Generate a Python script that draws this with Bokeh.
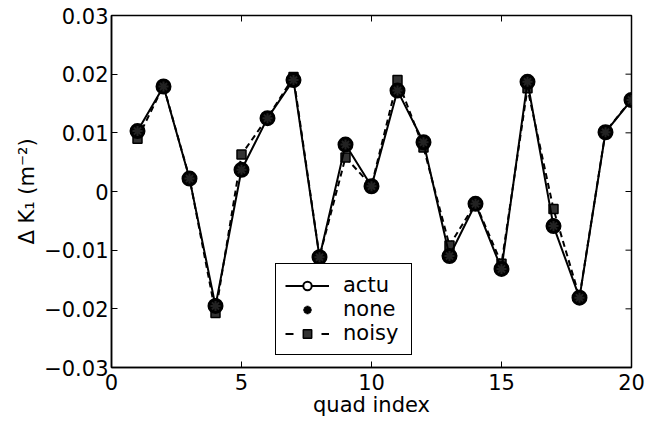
from bokeh.plotting import figure
from bokeh.models import Legend, LegendItem, FixedTicker
from bokeh.embed import file_html
from bokeh.resources import INLINE

quad = list(range(1, 21))
actu = [0.0103, 0.0179, 0.0022, -0.0195, 0.0037, 0.0125, 0.0190, -0.0112, 0.0080, 0.0009,
        0.0172, 0.0084, -0.0110, -0.0021, -0.0132, 0.0187, -0.0059, -0.0181, 0.0101, 0.0156]
none = [0.0103, 0.0179, 0.0022, -0.0195, 0.0037, 0.0125, 0.0190, -0.0112, 0.0080, 0.0009,
        0.0172, 0.0084, -0.0110, -0.0021, -0.0132, 0.0187, -0.0059, -0.0181, 0.0101, 0.0156]
noisy = [0.0090, 0.0180, 0.0023, -0.0207, 0.0063, 0.0126, 0.0195, -0.0111, 0.0058, 0.0010,
         0.0190, 0.0075, -0.0092, -0.0020, -0.0123, 0.0176, -0.0030, -0.0180, 0.0102, 0.0157]
x_ticks = [0, 5, 10, 15, 20]
y_ticks = [-0.03, -0.02, -0.01, 0, 0.01, 0.02, 0.03]
y_labels = {-0.03: "\u22120.03", -0.02: "\u22120.02", -0.01: "\u22120.01", 0: "0",
            0.01: "0.01", 0.02: "0.02", 0.03: "0.03"}

FONT = "DejaVu Sans"
FS = "21px"
X0, X1 = 0, 20
Y0, Y1 = -0.03, 0.03
FW, FH = 520, 352
TICK = 6

p = figure(width=646, height=423, frame_width=FW, frame_height=FH,
           x_range=(X0, X1), y_range=(Y0, Y1),
           output_backend="svg", toolbar_location=None,
           min_border_left=111, min_border_right=15, min_border_top=15, min_border_bottom=56)
p.grid.visible = False
p.outline_line_color = "black"
p.outline_line_width = 1.5
p.outline_line_alpha = 1
p.background_fill_color = "white"
p.border_fill_color = "white"

for ax in (p.xaxis[0], p.yaxis[0]):
    ax.major_tick_in = TICK
    ax.major_tick_out = 0
    ax.minor_tick_in = 0
    ax.minor_tick_out = 0
    ax.axis_line_width = 1.5
    ax.axis_line_color = "black"
    ax.major_tick_line_width = 1
    ax.major_tick_line_color = "black"
    ax.major_label_text_font = FONT
    ax.major_label_text_font_size = FS
    ax.major_label_text_color = "black"
    ax.axis_label_text_font = FONT
    ax.axis_label_text_font_size = FS
    ax.axis_label_text_font_style = "normal"
    ax.axis_label_text_color = "black"

p.xaxis.ticker = FixedTicker(ticks=x_ticks)
p.yaxis.ticker = FixedTicker(ticks=y_ticks)
p.yaxis.major_label_overrides = y_labels
p.xaxis.axis_label = "quad index"
p.yaxis.axis_label = "\u0394 K\u2081 (m\u207b\u00b2)"
p.xaxis.axis_label_standoff = 0
p.yaxis.axis_label_standoff = 2
p.xaxis.major_label_standoff = 6
p.yaxis.major_label_standoff = 3

# tick marks on the top and right edges of the box
dy = (Y1 - Y0) * TICK / FH
dx = (X1 - X0) * TICK / FW
p.segment(x0=x_ticks, y0=[Y1] * len(x_ticks), x1=x_ticks, y1=[Y1 - dy] * len(x_ticks),
          line_color="black", line_width=1)
p.segment(x0=[X1] * len(y_ticks), y0=y_ticks, x1=[X1 - dx] * len(y_ticks), y1=y_ticks,
          line_color="black", line_width=1)

# noisy dashed line with squares
p.line(quad, noisy, line_color="black", line_width=2, line_dash="6 4")
p.scatter(quad, noisy, marker="square", size=9, line_color="black", line_width=1.5,
          fill_color="#333333")
# actu solid line with circles
p.line(quad, actu, line_color="black", line_width=2)
p.scatter(quad, actu, marker="circle", size=14, line_color="black", line_width=2,
          fill_color="black")
# none asterisks
p.scatter(quad, none, marker="asterisk", size=10, line_color="#222222", line_width=2)

# legend proxies (hidden renderers, shown only in the legend)
la_line = p.line(quad, actu, line_color="black", line_width=2, visible=False)
la_mark = p.scatter(quad, actu, marker="circle", size=10, line_color="black", line_width=2,
                    fill_color="white", visible=False)
ln_mark = p.scatter(quad, none, marker="asterisk", size=10, line_color="black", line_width=2.5,
                    visible=False)
lz_line = p.line(quad, noisy, line_color="black", line_width=2, line_dash="8 10", visible=False)
lz_mark = p.scatter(quad, noisy, marker="square", size=8, line_color="black", line_width=1.5,
                    fill_color="#333333", visible=False)

legend = Legend(items=[
    LegendItem(label="actu", renderers=[la_line, la_mark], index=0),
    LegendItem(label="none", renderers=[ln_mark], index=0),
    LegendItem(label="noisy", renderers=[lz_line, lz_mark], index=0),
], location=(164, 12))
legend.border_line_color = "black"
legend.border_line_width = 1.5
legend.border_line_alpha = 1
legend.background_fill_color = "white"
legend.background_fill_alpha = 1
legend.label_text_font = FONT
legend.label_text_font_size = FS
legend.label_text_color = "black"
legend.glyph_width = 44
legend.glyph_height = 21
legend.label_height = 21
legend.label_width = 59
legend.spacing = 0
legend.padding = 9
legend.margin = 0
legend.label_standoff = 14
legend.click_policy = "none"
p.add_layout(legend, "center")

open("out.html", "w").write(file_html(p, INLINE))
